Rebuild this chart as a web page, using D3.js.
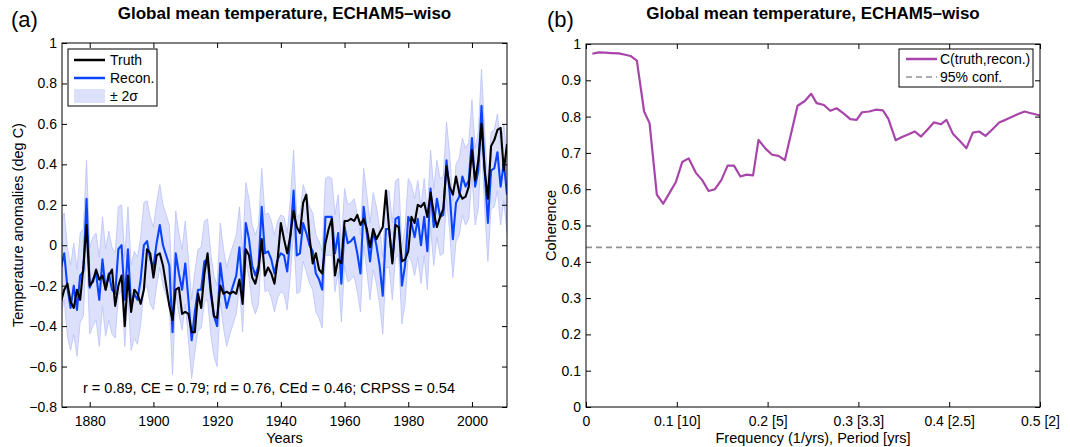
<!DOCTYPE html>
<html>
<head>
<meta charset="utf-8">
<script src="https://cdn.jsdelivr.net/npm/d3@7"></script>
<style>
  body { margin: 0; background: #fff; }
  text { font-family: "Liberation Sans", Arial, Helvetica, sans-serif; }
</style>
</head>
<body>
<script>
// ---- data, panel (a) ----
const years = d3.range(1871, 2012);
const truth = [
  -0.28,-0.22,-0.19,-0.28,-0.31,-0.22,-0.27,-0.11,0.10,-0.20,
  -0.18,-0.12,-0.17,-0.15,-0.22,-0.15,-0.12,-0.30,-0.20,-0.15,
  -0.40,-0.15,-0.33,-0.22,-0.24,-0.29,-0.22,-0.02,-0.04,-0.16,
  -0.05,-0.04,-0.10,-0.20,-0.30,-0.37,-0.22,-0.21,-0.34,-0.33,
  -0.34,-0.43,-0.43,-0.24,-0.31,-0.14,-0.04,-0.22,-0.35,-0.36,
  -0.20,-0.24,-0.23,-0.24,-0.23,-0.24,-0.17,-0.29,-0.02,-0.05,
  -0.16,-0.19,-0.12,0.03,-0.15,-0.11,-0.14,-0.19,-0.07,0.11,
  0.03,-0.04,0.05,0.17,0.09,0.06,0.21,0.25,0.04,-0.09,
  -0.04,-0.12,-0.14,0.01,0.08,0.13,-0.15,-0.07,-0.09,0.12,
  0.12,0.13,0.12,0.15,0.10,0.13,0.08,-0.01,0.08,0.03,
  0.06,0.09,0.27,0.08,-0.09,0.10,0.09,-0.08,-0.07,-0.03,
  0.14,0.11,0.20,0.19,0.21,0.14,0.26,0.16,0.09,0.14,
  0.18,0.39,0.29,0.25,0.34,0.26,0.23,0.24,0.29,0.47,
  0.32,0.42,0.60,0.37,0.23,0.49,0.52,0.57,0.58,0.37,
  0.50
];
const recon = [
  -0.11,-0.04,-0.21,-0.31,-0.20,-0.32,-0.15,-0.13,0.23,-0.21,
  -0.17,-0.14,-0.27,-0.07,-0.22,-0.14,-0.22,-0.24,-0.02,0.00,
  -0.27,-0.02,-0.30,-0.24,-0.27,-0.17,0.00,0.02,-0.07,-0.11,
  0.01,0.10,0.00,-0.05,-0.10,-0.43,-0.04,-0.14,-0.22,-0.09,
  -0.27,-0.47,-0.33,-0.22,-0.22,-0.08,-0.07,-0.24,-0.35,-0.40,
  -0.09,-0.22,-0.31,-0.25,-0.20,-0.15,-0.01,-0.24,0.11,0.03,
  -0.10,-0.15,-0.10,0.19,-0.04,-0.03,-0.07,-0.14,-0.07,-0.04,
  -0.05,-0.13,0.04,0.27,-0.05,-0.04,0.11,0.06,0.00,-0.03,
  -0.14,-0.17,-0.22,0.14,0.14,0.14,-0.04,0.06,-0.19,0.09,
  0.01,0.02,0.04,-0.04,-0.14,0.19,0.06,-0.08,0.07,0.00,
  -0.10,-0.25,0.08,0.08,-0.08,0.13,0.14,-0.20,-0.10,0.14,
  0.11,0.04,0.13,0.00,0.14,-0.03,0.28,0.09,0.23,0.14,
  0.15,0.42,0.26,0.03,0.21,0.24,0.34,0.29,0.32,0.53,
  0.29,0.37,0.69,0.37,0.11,0.37,0.38,0.46,0.29,0.41,
  0.25
];
const upper2s = [
  0.12,0.16,-0.01,-0.10,0.01,-0.12,0.06,0.08,0.42,-0.01,
  0.04,0.06,-0.06,0.14,-0.02,0.07,-0.01,-0.04,0.19,0.20,
  -0.06,0.19,-0.10,-0.03,-0.06,0.04,0.21,0.22,0.14,0.09,
  0.21,0.30,0.20,0.15,0.10,-0.22,0.17,0.06,-0.02,0.12,
  -0.07,-0.27,-0.13,-0.02,-0.01,0.12,0.13,-0.04,-0.15,-0.20,
  0.11,-0.02,-0.11,-0.05,0.00,0.05,0.19,-0.04,0.31,0.23,
  0.10,0.05,0.10,0.38,0.15,0.16,0.12,0.05,0.12,0.15,
  0.14,0.06,0.23,0.47,0.14,0.15,0.30,0.25,0.19,0.16,
  0.05,0.02,-0.03,0.33,0.34,0.33,0.15,0.25,0.00,0.28,
  0.20,0.21,0.23,0.15,0.05,0.38,0.25,0.11,0.26,0.19,
  0.09,-0.06,0.27,0.27,0.11,0.32,0.33,-0.01,0.09,0.33,
  0.30,0.23,0.32,0.19,0.33,0.16,0.47,0.28,0.42,0.33,
  0.34,0.61,0.45,0.22,0.40,0.43,0.53,0.48,0.51,0.72,
  0.48,0.56,0.87,0.56,0.30,0.56,0.57,0.65,0.48,0.60,
  0.44
];
const lower2s = [
  -0.34,-0.27,-0.45,-0.52,-0.44,-0.55,-0.38,-0.35,0.00,-0.44,
  -0.40,-0.37,-0.50,-0.30,-0.45,-0.37,-0.44,-0.46,-0.25,-0.22,
  -0.50,-0.25,-0.52,-0.46,-0.49,-0.39,-0.22,-0.20,-0.29,-0.32,
  -0.20,-0.11,-0.20,-0.25,-0.30,-0.64,-0.24,-0.34,-0.42,-0.29,
  -0.47,-0.66,-0.53,-0.42,-0.41,-0.28,-0.27,-0.44,-0.55,-0.60,
  -0.28,-0.41,-0.50,-0.44,-0.39,-0.34,-0.20,-0.43,-0.08,-0.16,
  -0.29,-0.34,-0.29,0.00,-0.23,-0.22,-0.26,-0.33,-0.26,-0.23,
  -0.24,-0.32,-0.15,0.08,-0.24,-0.23,-0.08,-0.13,-0.19,-0.22,
  -0.33,-0.36,-0.41,-0.05,-0.05,-0.05,-0.23,-0.13,-0.38,-0.10,
  -0.18,-0.17,-0.15,-0.23,-0.33,0.00,-0.13,-0.27,-0.12,-0.19,
  -0.29,-0.44,-0.11,-0.11,-0.27,-0.06,-0.05,-0.39,-0.29,-0.05,
  -0.08,-0.15,-0.06,-0.19,-0.05,-0.22,0.09,-0.10,0.04,-0.05,
  -0.04,0.23,0.07,-0.16,0.02,0.05,0.15,0.10,0.13,0.34,
  0.10,0.18,0.50,0.18,-0.08,0.18,0.19,0.27,0.10,0.22,
  0.06
];
const yearTicks = [1880, 1900, 1920, 1940, 1960, 1980, 2000];
const tempTicks = [-0.8, -0.6, -0.4, -0.2, 0, 0.2, 0.4, 0.6, 0.8, 1];
const skillText = "r = 0.89, CE = 0.79; rd = 0.76, CEd = 0.46; CRPSS = 0.54";

// ---- data, panel (b) ----
const freq = [
  0.007,0.014,0.021,0.028,0.036,0.042,0.049,0.056,0.064,0.070,
  0.078,0.085,0.092,0.099,0.106,0.113,0.121,0.128,0.135,0.142,
  0.149,0.156,0.163,0.170,0.177,0.184,0.190,0.198,0.205,0.212,
  0.219,0.226,0.233,0.241,0.248,0.254,0.262,0.269,0.276,0.284,
  0.291,0.298,0.304,0.312,0.319,0.327,0.333,0.341,0.348,0.356,
  0.362,0.369,0.376,0.383,0.391,0.397,0.404,0.412,0.419,0.426,
  0.433,0.440,0.448,0.455,0.462,0.470,0.476,0.483,0.489,0.497,
  0.500
];
const coh = [
  0.973,0.977,0.976,0.975,0.974,0.971,0.967,0.954,0.814,0.782,
  0.585,0.560,0.590,0.620,0.675,0.685,0.645,0.625,0.595,0.600,
  0.625,0.665,0.665,0.635,0.640,0.638,0.736,0.711,0.695,0.692,
  0.680,0.755,0.830,0.843,0.863,0.837,0.832,0.816,0.823,0.808,
  0.793,0.791,0.812,0.814,0.819,0.817,0.794,0.735,0.744,0.752,
  0.759,0.745,0.764,0.784,0.779,0.791,0.753,0.732,0.713,0.756,
  0.759,0.747,0.766,0.784,0.791,0.800,0.807,0.814,0.810,0.805,
  0.803
];
const conf95 = 0.44;
const freqTicks = [0, 0.1, 0.2, 0.3, 0.4, 0.5];
const freqLabels = ["0", "0.1 [10]", "0.2 [5]", "0.3 [3.3]", "0.4 [2.5]", "0.5 [2]"];
const cohTicks = [0, 0.1, 0.2, 0.3, 0.4, 0.5, 0.6, 0.7, 0.8, 0.9, 1];

// ---- layout ----
const w = 1070, h = 447;
const blue = "#0a44ff", bandFill = "#dde0fb", bandEdge = "#b9c1fb", purple = "#a845ab";
const A = {left: 62, right: 507, top: 43, bottom: 407};
const B = {left: 586, right: 1040, top: 44, bottom: 407};
const tickFs = 14, labelFs = 14.5, titleFs = 17;

const svg = d3.select("body").append("svg").attr("width", w).attr("height", h);

var styleAxis = function (g) {
  g.selectAll("path.domain").remove();
  g.selectAll(".tick line").attr("stroke", "#000");
  g.selectAll(".tick text").attr("font-size", tickFs).attr("fill", "#000");
};

// ===== panel (a) =====
const xA = d3.scaleLinear().domain([1871.3, 2011]).range([A.left, A.right]);
const yA = d3.scaleLinear().domain([-0.8, 1]).range([A.bottom, A.top]);

svg.append("clipPath").attr("id", "clipA").append("rect")
  .attr("x", A.left).attr("y", A.top)
  .attr("width", A.right - A.left).attr("height", A.bottom - A.top);

const gA = svg.append("g").attr("clip-path", "url(#clipA)");
const band = d3.area()
  .x((d, i) => xA(years[i]))
  .y0((d, i) => yA(lower2s[i]))
  .y1((d, i) => yA(upper2s[i]));
gA.append("path").datum(years).attr("d", band)
  .attr("fill", bandFill).attr("stroke", bandEdge).attr("stroke-width", 0.8);

const lineOf = (arr) => d3.line().x((d, i) => xA(years[i])).y((d, i) => yA(arr[i]))(arr);
gA.append("path").attr("d", lineOf(recon)).attr("fill", "none")
  .attr("stroke", blue).attr("stroke-width", 2.1).attr("stroke-linejoin", "round");
gA.append("path").attr("d", lineOf(truth)).attr("fill", "none")
  .attr("stroke", "#000").attr("stroke-width", 2.1).attr("stroke-linejoin", "round");

svg.append("g").attr("transform", "translate(0," + A.bottom + ")")
  .call(d3.axisBottom(xA).tickValues(yearTicks).tickFormat(d3.format("d")).tickSizeInner(-5).tickSizeOuter(0).tickPadding(9))
  .call(styleAxis);
svg.append("g").attr("transform", "translate(0," + A.top + ")")
  .call(d3.axisTop(xA).tickValues(yearTicks).tickFormat("").tickSizeInner(-5).tickSizeOuter(0))
  .call(styleAxis);
svg.append("g").attr("transform", "translate(" + A.left + ",0)")
  .call(d3.axisLeft(yA).tickValues(tempTicks).tickFormat(d3.format("~g")).tickSizeInner(-5).tickSizeOuter(0).tickPadding(5))
  .call(styleAxis);
svg.append("g").attr("transform", "translate(" + A.right + ",0)")
  .call(d3.axisRight(yA).tickValues(tempTicks).tickFormat("").tickSizeInner(-5).tickSizeOuter(0))
  .call(styleAxis);
svg.append("rect").attr("x", A.left).attr("y", A.top)
  .attr("width", A.right - A.left).attr("height", A.bottom - A.top)
  .attr("fill", "none").attr("stroke", "#000").attr("stroke-width", 1);

svg.append("text").attr("x", (A.left + A.right) / 2).attr("y", 19)
  .attr("text-anchor", "middle").attr("font-size", titleFs).attr("font-weight", "bold")
  .text("Global mean temperature, ECHAM5\u2013wiso");
svg.append("text").attr("x", 11).attr("y", 27).attr("font-size", 22).text("(a)");
svg.append("text").attr("x", (A.left + A.right) / 2).attr("y", 443)
  .attr("text-anchor", "middle").attr("font-size", labelFs).text("Years");
svg.append("text").attr("transform", "translate(23," + (A.top + A.bottom) / 2 + ") rotate(-90)")
  .attr("text-anchor", "middle").attr("font-size", labelFs).text("Temperature anomalies (deg C)");
svg.append("text").attr("x", 83).attr("y", 393).attr("font-size", labelFs).text(skillText);

// legend (a)
const legA = svg.append("g");
legA.append("rect").attr("x", 68).attr("y", 49).attr("width", 89).attr("height", 57)
  .attr("fill", "#fff").attr("stroke", "#000").attr("stroke-width", 1);
legA.append("line").attr("x1", 74).attr("x2", 105).attr("y1", 60).attr("y2", 60)
  .attr("stroke", "#000").attr("stroke-width", 2.5);
legA.append("line").attr("x1", 74).attr("x2", 105).attr("y1", 78).attr("y2", 78)
  .attr("stroke", blue).attr("stroke-width", 2.5);
legA.append("rect").attr("x", 74).attr("y", 89).attr("width", 31).attr("height", 14)
  .attr("fill", bandFill);
legA.append("text").attr("x", 110).attr("y", 65).attr("font-size", 14).text("Truth");
legA.append("text").attr("x", 110).attr("y", 83).attr("font-size", 14).text("Recon.");
legA.append("text").attr("x", 110).attr("y", 101).attr("font-size", 14).text("\u00b1 2\u03c3");

// ===== panel (b) =====
const xB = d3.scaleLinear().domain([0, 0.5]).range([B.left, B.right]);
const yB = d3.scaleLinear().domain([0, 1]).range([B.bottom, B.top]);

svg.append("line").attr("x1", xB(0)).attr("x2", xB(0.5)).attr("y1", yB(conf95)).attr("y2", yB(conf95))
  .attr("stroke", "#929292").attr("stroke-width", 1.7).attr("stroke-dasharray", "6,4");
svg.append("path")
  .attr("d", d3.line().x((d, i) => xB(freq[i])).y((d) => yB(d))(coh))
  .attr("fill", "none").attr("stroke", purple).attr("stroke-width", 2.2).attr("stroke-linejoin", "round");

svg.append("g").attr("transform", "translate(0," + B.bottom + ")")
  .call(d3.axisBottom(xB).tickValues(freqTicks).tickFormat((d, i) => freqLabels[i]).tickSizeInner(-5).tickSizeOuter(0).tickPadding(9))
  .call(styleAxis);
svg.append("g").attr("transform", "translate(0," + B.top + ")")
  .call(d3.axisTop(xB).tickValues(freqTicks).tickFormat("").tickSizeInner(-5).tickSizeOuter(0))
  .call(styleAxis);
svg.append("g").attr("transform", "translate(" + B.left + ",0)")
  .call(d3.axisLeft(yB).tickValues(cohTicks).tickFormat(d3.format("~g")).tickSizeInner(-5).tickSizeOuter(0).tickPadding(5))
  .call(styleAxis);
svg.append("g").attr("transform", "translate(" + B.right + ",0)")
  .call(d3.axisRight(yB).tickValues(cohTicks).tickFormat("").tickSizeInner(-5).tickSizeOuter(0))
  .call(styleAxis);
svg.append("rect").attr("x", B.left).attr("y", B.top)
  .attr("width", B.right - B.left).attr("height", B.bottom - B.top)
  .attr("fill", "none").attr("stroke", "#000").attr("stroke-width", 1);

svg.append("text").attr("x", (B.left + B.right) / 2).attr("y", 19)
  .attr("text-anchor", "middle").attr("font-size", titleFs).attr("font-weight", "bold")
  .text("Global mean temperature, ECHAM5\u2013wiso");
svg.append("text").attr("x", 547).attr("y", 27).attr("font-size", 22).text("(b)");
svg.append("text").attr("x", (B.left + B.right) / 2).attr("y", 443)
  .attr("text-anchor", "middle").attr("font-size", labelFs).text("Frequency (1/yrs), Period [yrs]");
svg.append("text").attr("transform", "translate(556," + (B.top + B.bottom) / 2 + ") rotate(-90)")
  .attr("text-anchor", "middle").attr("font-size", labelFs).text("Coherence");

// legend (b)
const legB = svg.append("g");
legB.append("rect").attr("x", 899).attr("y", 49).attr("width", 134).attr("height", 38)
  .attr("fill", "#fff").attr("stroke", "#000").attr("stroke-width", 1);
legB.append("line").attr("x1", 906).attr("x2", 937).attr("y1", 59).attr("y2", 59)
  .attr("stroke", purple).attr("stroke-width", 2.5);
legB.append("line").attr("x1", 906).attr("x2", 937).attr("y1", 77).attr("y2", 77)
  .attr("stroke", "#929292").attr("stroke-width", 1.7).attr("stroke-dasharray", "6,4");
legB.append("text").attr("x", 940).attr("y", 64).attr("font-size", 14).text("C(truth,recon.)");
legB.append("text").attr("x", 940).attr("y", 82).attr("font-size", 14).text("95% conf.");
</script>
</body>
</html>
